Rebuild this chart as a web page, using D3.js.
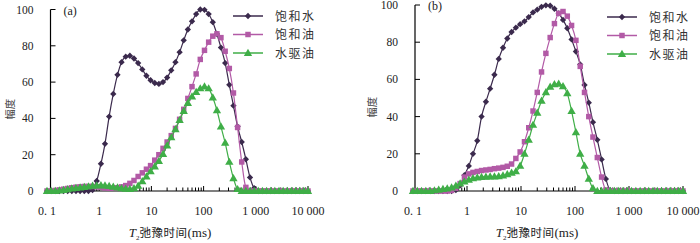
<!DOCTYPE html>
<html>
<head>
<meta charset="utf-8">
<script src="https://cdn.jsdelivr.net/npm/d3@7"></script>
<style>
  body { margin: 0; background: #fff; }
  svg { display: block; }
</style>
</head>
<body>
<svg id="drawspace" width="700" height="243"></svg>
<script>
// T2 bins (ms), 64 log-spaced points from 0.1 to 10 000
const t2 = [0.1, 0.12, 0.144, 0.173, 0.208, 0.249, 0.299, 0.359, 0.431, 0.518,
  0.622, 0.746, 0.896, 1.08, 1.29, 1.55, 1.86, 2.24, 2.68, 3.22,
  3.87, 4.64, 5.57, 6.69, 8.03, 9.64, 11.6, 13.9, 16.7, 20.0,
  24.0, 28.9, 34.7, 41.6, 49.9, 60.0, 72.0, 86.4, 104, 125,
  150, 180, 215, 259, 311, 373, 448, 537, 645, 774,
  930, 1115, 1340, 1608, 1931, 2318, 2783, 3341, 4011, 4815,
  5780, 6939, 8330, 10000];

const xTicks = [0.1, 1, 10, 100, 1000, 10000];
const xTickLabels = ["0. 1", "1", "10", "100", "1 000", "10 000"];
const yTicks = [0, 20, 40, 60, 80, 100];
const seriesNames = ["饱和水", "饱和油", "水驱油"];
const panelNames = ["(a)", "(b)"];

// panel (a)
const waterA = [0, 0, 0, 0, 0, 0, 0, 0, 0, 0,
  0, 0.5, 5.5, 15, 26, 41, 53.5, 64, 71, 74,
  74.5, 73, 70.5, 67, 63.5, 61, 59.5, 59, 60, 62.5,
  66.5, 71, 76.5, 83, 89, 93.5, 97.5, 100, 99.8, 97.5,
  93, 86.5, 79, 70.5, 58.5, 47, 35.5, 27, 17.5, 7.5,
  1.5, 0, 0, 0, 0, 0, 0, 0, 0, 0,
  0, 0, 0, 0];
const oilA = [0, 0, 0.3, 0.6, 1, 1.4, 1.8, 2.1, 2.3, 2.5,
  2.5, 2.5, 2.3, 2, 1.7, 1.5, 1.5, 1.8, 2.3, 3,
  4.2, 5.8, 8, 10, 12, 14, 17, 20, 23.5, 27,
  30.5, 34.5, 39.5, 45, 51, 57.5, 64.5, 72.5, 77.5, 82,
  85.3, 86.6, 84.5, 77, 67.5, 54, 35, 16, 2, 0,
  0, 0, 0, 0, 0, 0, 0, 0, 0, 0,
  0, 0, 0, 0];
const floodA = [0, 0, 0, 0.2, 0.5, 0.9, 1.3, 1.6, 1.9, 2.2,
  2.5, 2.8, 3, 3.1, 3, 2.7, 2.3, 1.9, 1.5, 1.2,
  1.1, 1.5, 2.8, 5.3, 8, 10.8, 13.5, 16.5, 20.3, 25,
  29.5, 34, 39, 44, 48.5, 52, 54.5, 56.5, 57.5, 56.5,
  51.5, 44.5, 35.5, 26.5, 16, 7, 1, 0, 0, 0,
  0, 0, 0, 0, 0, 0, 0, 0, 0, 0,
  0, 0, 0, 0];

// panel (b)
const waterB = [0, 0, 0, 0, 0, 0, 0, 0, 0, 0,
  0.5, 3, 8.5, 13.5, 20, 27, 40, 48, 55, 62.5,
  71, 77, 82, 85.5, 87.8, 89.7, 91.2, 93.5, 96, 97.5,
  99, 99.8, 99.6, 98, 95.5, 92, 87.5, 81.5, 75, 68,
  57, 47.5, 37, 27.5, 17, 6.5, 0.5, 0, 0, 0,
  0, 0, 0, 0, 0, 0, 0, 0, 0, 0,
  0, 0, 0, 0];
const oilB = [0, 0, 0, 0, 0, 0, 0, 0, 0, 0.3,
  1.5, 4, 7.5, 9.2, 10, 10.5, 11, 11.3, 11.6, 12,
  12.3, 12.7, 13.3, 14.5, 17.5, 21, 26.5, 34, 43, 53,
  64, 74, 82.5, 90, 95.5, 96.5, 94, 89, 81, 67,
  53, 40, 29, 18, 7.5, 0.5, 0, 0, 0, 0,
  0, 0, 0, 0, 0, 0, 0, 0, 0, 0,
  0, 0, 0, 0];
const floodB = [0, 0, 0, 0, 0, 0.3, 0.6, 1, 1.3, 1.8,
  2.8, 4, 5, 6, 6.8, 7.2, 7.5, 7.6, 7.7, 7.8,
  7.9, 8.3, 9, 9.8, 10.5, 13.5, 20, 27.5, 35.5, 42,
  48.5, 53, 56, 57.3, 57.6, 56.3, 52.5, 43, 31.5, 20,
  13.5, 6.5, 1.5, 0, 0, 0, 0, 0, 0, 0,
  0, 0, 0, 0, 0, 0, 0, 0, 0, 0,
  0, 0, 0, 0];

const colors = ["#3b2a4d", "#b25aa6", "#3fae47"];
const symbols = ["diamond", "square", "triangle"];

const serif = "'Liberation Serif', 'Times New Roman', serif";
const cjk = "'Noto Sans CJK SC', sans-serif";

const panels = [
  { name: panelNames[0], series: [waterA, oilA, floodA],
    x0: 47, x1: 308, axisX: 50.5, yTop: 9.5, yBot: 191,
    legX: 233, legY: 16, titleX: 170, ylabX: 14 },
  { name: panelNames[1], series: [waterB, oilB, floodB],
    x0: 413, x1: 683, axisX: 415, yTop: 5, yBot: 191,
    legX: 607, legY: 17, titleX: 537, ylabX: 376 }
];

let drawspace = d3.select("#drawspace");

function marker(g, type, color) {
  if (type === "diamond") {
    g.append("path")
      .attr("d", d3.symbol(d3.symbolSquare, 20)())
      .attr("transform", "rotate(45)")
      .attr("fill", color);
  } else if (type === "square") {
    g.append("path").attr("d", d3.symbol(d3.symbolSquare, 30)()).attr("fill", color);
  } else {
    g.append("path").attr("d", d3.symbol(d3.symbolTriangle, 30)())
      .attr("transform", "translate(0,0.5)").attr("fill", color);
  }
}

function drawPanel(p) {
  var xScale = d3.scaleLog().domain([0.1, 10000]).range([p.x0, p.x1]);
  var yScale = d3.scaleLinear().domain([0, 100]).range([p.yBot, p.yTop]);

  var g = drawspace.append("g");

  // x axis line at amplitude 0 with small upward log ticks
  g.append("line")
    .attr("x1", p.axisX).attr("x2", xScale(10000))
    .attr("y1", yScale(0)).attr("y2", yScale(0))
    .attr("stroke", "#000").attr("stroke-width", 1);

  var minor = [];
  for (var k = -1; k < 4; k++) {
    for (var m = 2; m <= 9; m++) minor.push(m * Math.pow(10, k));
  }
  g.selectAll(".minor").data(minor).enter().append("line")
    .attr("x1", (d) => xScale(d)).attr("x2", (d) => xScale(d))
    .attr("y1", yScale(0)).attr("y2", yScale(0) - 3.5)
    .attr("stroke", "#000").attr("stroke-width", 1);
  g.selectAll(".major").data(xTicks.slice(1)).enter().append("line")
    .attr("x1", (d) => xScale(d)).attr("x2", (d) => xScale(d))
    .attr("y1", yScale(0)).attr("y2", yScale(0) - 5)
    .attr("stroke", "#000").attr("stroke-width", 1);

  g.selectAll(".xlab").data(xTicks).enter().append("text")
    .attr("x", (d) => xScale(d))
    .attr("y", 215)
    .attr("text-anchor", "middle")
    .attr("font-family", serif)
    .attr("font-size", "12px")
    .attr("fill", "#222")
    .text((d, i) => xTickLabels[i]);

  // y axis
  g.append("line")
    .attr("x1", p.axisX).attr("x2", p.axisX)
    .attr("y1", yScale(0)).attr("y2", yScale(100))
    .attr("stroke", "#000").attr("stroke-width", 1.2);
  g.selectAll(".ytick").data(yTicks).enter().append("line")
    .attr("x1", p.axisX).attr("x2", p.axisX + 5)
    .attr("y1", (d) => yScale(d)).attr("y2", (d) => yScale(d))
    .attr("stroke", "#000").attr("stroke-width", 1);
  g.selectAll(".ylab").data(yTicks).enter().append("text")
    .attr("x", p.axisX - 17)
    .attr("y", (d) => yScale(d) + 4)
    .attr("text-anchor", "end")
    .attr("font-family", serif)
    .attr("font-size", "11.5px")
    .attr("fill", "#222")
    .text((d) => d);

  // axis titles
  g.append("text")
    .attr("transform", "translate(" + p.ylabX + "," + yScale(45) + ") rotate(-90)")
    .attr("text-anchor", "middle")
    .attr("font-family", cjk)
    .attr("font-size", "10.5px")
    .attr("fill", "#444")
    .text("幅度");

  var title = g.append("text")
    .attr("x", p.titleX).attr("y", 237)
    .attr("text-anchor", "middle")
    .attr("fill", "#222");
  title.append("tspan").attr("font-family", serif).attr("font-style", "italic")
    .attr("font-size", "13px").text("T");
  title.append("tspan").attr("font-family", serif).attr("font-size", "7px")
    .attr("dy", 3).text("2");
  title.append("tspan").attr("font-family", cjk).attr("font-size", "11.5px")
    .attr("dy", -3).attr("letter-spacing", "0.5px").text("弛豫时间");
  title.append("tspan").attr("font-family", serif).attr("font-size", "13px")
    .text("(ms)");

  g.append("text")
    .attr("x", p.axisX + 13).attr("y", p.yTop + 5)
    .attr("font-family", serif)
    .attr("font-size", "12px")
    .attr("fill", "#222")
    .text(p.name);

  // series
  var line = d3.line()
    .x((d, i) => xScale(t2[i]))
    .y((d) => yScale(d))
    .curve(d3.curveMonotoneX);

  p.series.forEach((vals, s) => {
    g.append("path")
      .datum(vals)
      .attr("d", line)
      .attr("fill", "none")
      .attr("stroke", colors[s])
      .attr("stroke-width", 1.2);
    vals.forEach((v, i) => {
      var m = g.append("g")
        .attr("transform", "translate(" + xScale(t2[i]) + "," + yScale(v) + ")");
      marker(m, symbols[s], colors[s]);
    });
  });

  // legend
  seriesNames.forEach((name, s) => {
    var ly = p.legY + s * 18.5;
    g.append("line")
      .attr("x1", p.legX).attr("x2", p.legX + 30)
      .attr("y1", ly).attr("y2", ly)
      .attr("stroke", colors[s]).attr("stroke-width", 1.5);
    var m = g.append("g").attr("transform", "translate(" + (p.legX + 15) + "," + ly + ")");
    marker(m, symbols[s], colors[s]);
    g.append("text")
      .attr("x", p.legX + 42).attr("y", ly + 4.5)
      .attr("font-family", cjk)
      .attr("font-size", "12px")
      .attr("letter-spacing", "1.5px")
      .attr("fill", "#333")
      .text(name);
  });
}

panels.forEach(drawPanel);
</script>
</body>
</html>
